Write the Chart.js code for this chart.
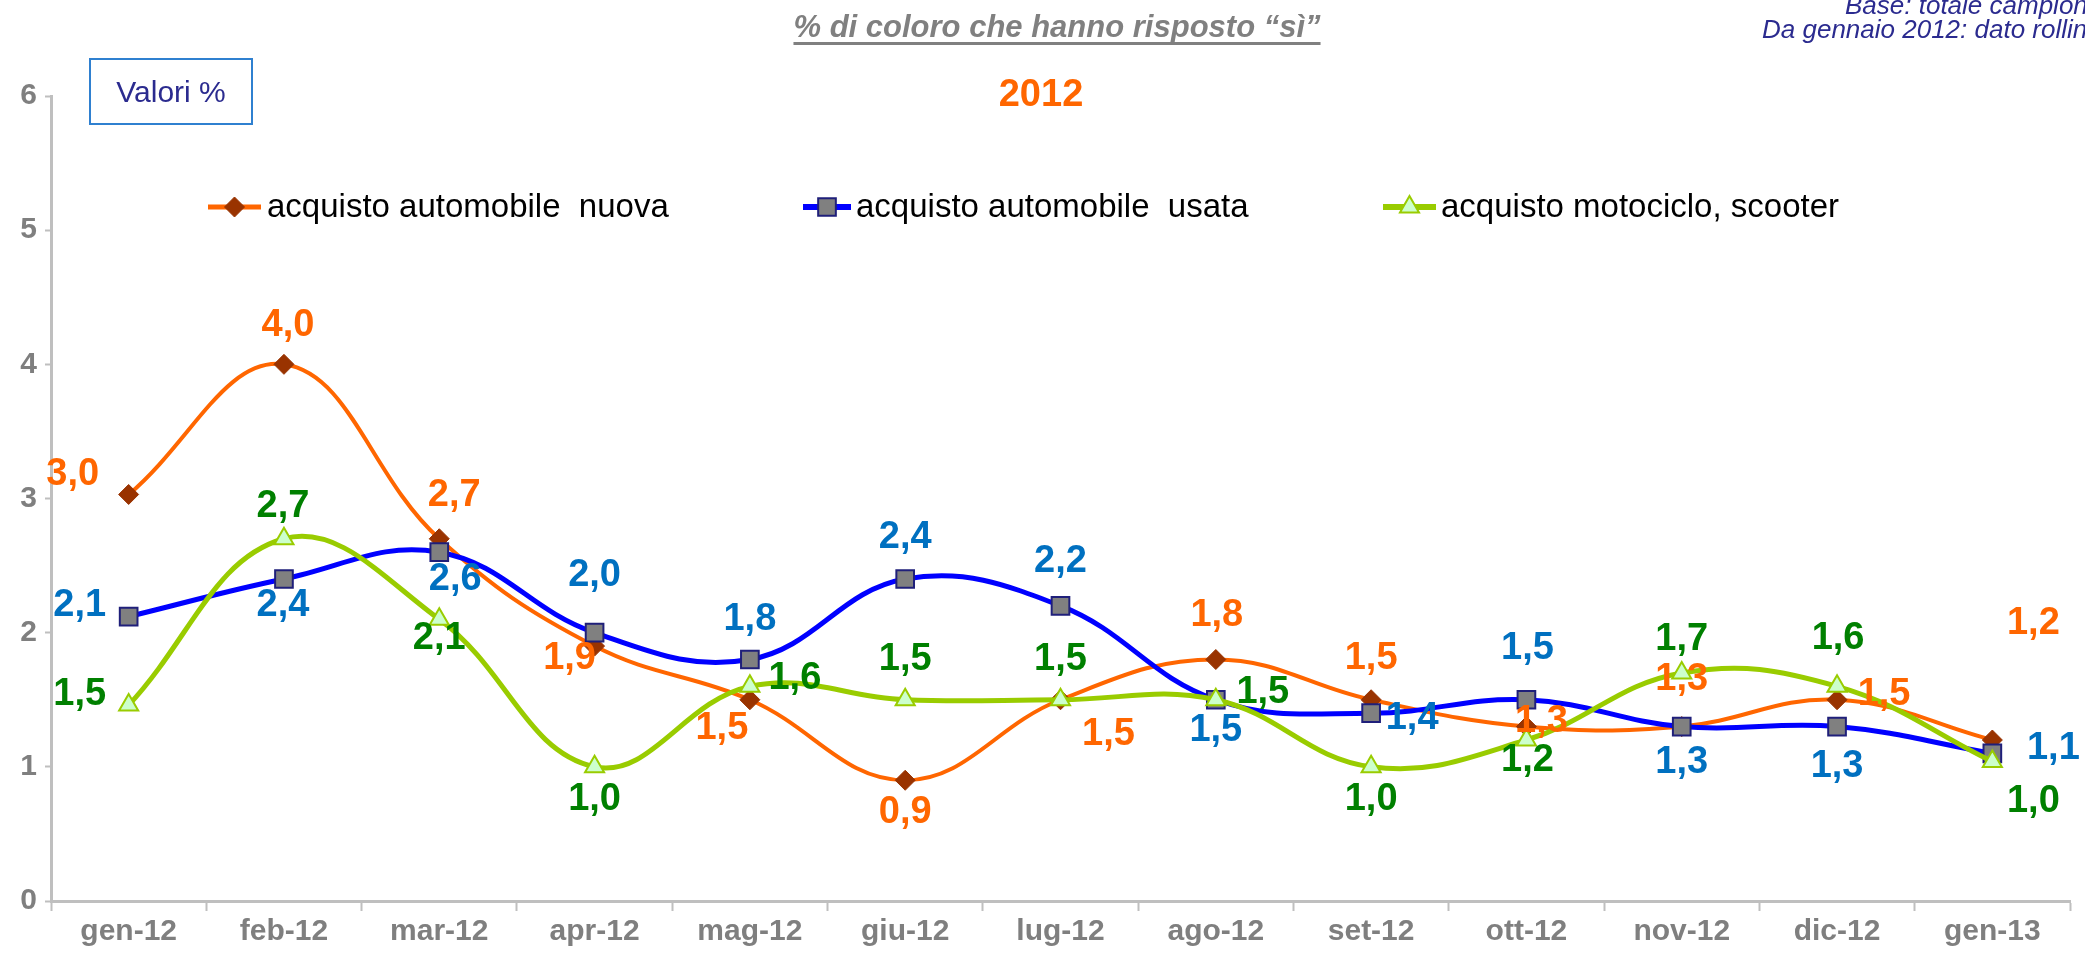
<!DOCTYPE html>
<html>
<head>
<meta charset="utf-8">
<script src="https://cdn.jsdelivr.net/npm/chart.js@4.4.1/dist/chart.umd.min.js"></script>
<style>
html, body { margin: 0; padding: 0; background: #fff; overflow: hidden; }
#wrap { position: relative; width: 2085px; height: 956px; overflow: hidden; font-family: "Liberation Sans", Arial, sans-serif; }
#wrap canvas { position: absolute; left: 0; top: 0; }
.t { position: absolute; white-space: nowrap; line-height: 1; }
</style>
</head>
<body>
<div id="wrap">
  <canvas id="chart" width="2085" height="956"></canvas>
  <div class="t" style="left:1057px;top:9px;transform:translateX(-50%);font:italic bold 31px 'Liberation Sans',Arial;color:#808080;text-decoration:underline;text-decoration-thickness:3px;text-underline-offset:5px;text-decoration-skip-ink:none;">% di coloro che hanno risposto “sì”</div>
  <div class="t" style="left:1845px;top:-10px;font:italic 26px 'Liberation Sans',Arial;color:#2B2B8F;">Base: totale campione</div>
  <div class="t" style="left:1762px;top:14px;font:italic 26px 'Liberation Sans',Arial;color:#2B2B8F;">Da gennaio 2012: dato rolling</div>
  <div class="t" style="left:89px;top:58px;width:160px;height:63px;border:2px solid #2F80D0;font:30px 'Liberation Sans',Arial;color:#2B2B8F;display:flex;align-items:center;justify-content:center;">Valori %</div>
  <div class="t" style="left:1041px;top:72px;transform:translateX(-50%);font:bold 38px 'Liberation Sans',Arial;color:#FF6600;">2012</div>
</div>
<script>
// mesi
var months = ["gen-12","feb-12","mar-12","apr-12","mag-12","giu-12","lug-12","ago-12","set-12","ott-12","nov-12","dic-12","gen-13"];

var autoNuova = [3.03, 4.0, 2.7, 1.9, 1.5, 0.9, 1.5, 1.8, 1.5, 1.3, 1.3, 1.5, 1.2];
var autoUsata = [2.12, 2.4, 2.6, 2.0, 1.8, 2.4, 2.2, 1.5, 1.4, 1.5, 1.3, 1.3, 1.1];
var moto      = [1.46, 2.7, 2.1, 1.0, 1.6, 1.5, 1.5, 1.5, 1.0, 1.2, 1.7, 1.6, 1.04];

var seriesNames = ["acquisto automobile  nuova", "acquisto automobile  usata", "acquisto motociclo, scooter"];

// spostamento delle etichette (px) rispetto al punto
var labelOffsets = [
    [[-56,-20],[4,-39],[15,-43],[-25,12],[-28,29],[0,32],[48,35],[1,-44],[0,-41],[15,-5],[0,-47],[47,-5],[41,-116]],
    [[-49,-11],[-1,27],[16,27],[0,-57],[0,-40],[0,-41],[0,-44],[0,31],[41,5],[1,-51],[0,36],[0,40],[61,-5]],
    [[-49,-11],[-1,-32],[0,19],[0,33],[45,-8],[0,-40],[0,-40],[47,-7],[0,33],[1,21],[0,-33],[1,-48],[41,40]]
];
var labelColors = ["#FF6600", "#0070C0", "#008000"];

// legenda: inizio linea, fine linea, inizio testo
var legendPos = [[208, 261, 267], [803, 851, 856], [1383, 1436, 1441]];
var legendY = 207;

var valueLabels = {
    id: 'valueLabels',
    afterDatasetsDraw: function (chart) {
        var ctx = chart.ctx;
        ctx.save();
        ctx.font = "bold 38px 'Liberation Sans', Arial";
        ctx.textAlign = "center";
        ctx.textBaseline = "middle";
        chart.data.datasets.forEach(function (ds, i) {
            var meta = chart.getDatasetMeta(i);
            ctx.fillStyle = labelColors[i];
            meta.data.forEach(function (pt, j) {
                var off = labelOffsets[i][j];
                var txt = ds.data[j].toFixed(1).replace(".", ",");
                ctx.fillText(txt, pt.x + off[0], pt.y + off[1]);
            });
        });
        ctx.restore();
    }
};

var legendDraw = {
    id: 'legendDraw',
    afterDraw: function (chart) {
        var ctx = chart.ctx;
        ctx.save();
        chart.data.datasets.forEach(function (ds, i) {
            var p = legendPos[i];
            ctx.strokeStyle = ds.borderColor;
            ctx.lineWidth = ds.borderWidth + 1;
            ctx.beginPath();
            ctx.moveTo(p[0], legendY);
            ctx.lineTo(p[1], legendY);
            ctx.stroke();
            ctx.fillStyle = ds.pointBackgroundColor;
            ctx.strokeStyle = ds.pointBorderColor;
            ctx.lineWidth = ds.pointBorderWidth;
            Chart.helpers.drawPoint(ctx, {
                pointStyle: ds.pointStyle,
                radius: ds.pointRadius,
                borderWidth: ds.pointBorderWidth,
                rotation: 0
            }, (p[0] + p[1]) / 2, legendY);
            ctx.fillStyle = "#000";
            ctx.font = "33px 'Liberation Sans', Arial";
            ctx.textAlign = "left";
            ctx.textBaseline = "middle";
            ctx.fillText(seriesNames[i], p[2], legendY + 1);
        });
        ctx.restore();
    }
};

Chart.defaults.font.family = "'Liberation Sans', Arial, sans-serif";

var ctx = document.getElementById("chart").getContext("2d");
var chart = new Chart(ctx, {
    type: 'line',
    data: {
        labels: months,
        datasets: [
            {
                label: seriesNames[0],
                data: autoNuova,
                borderColor: "#FF6600",
                borderWidth: 4,
                pointStyle: 'rectRot',
                pointRadius: 10,
                pointBackgroundColor: "#993300",
                pointBorderColor: "#993300",
                pointBorderWidth: 1,
                tension: 0.4,
                order: 3
            },
            {
                label: seriesNames[1],
                data: autoUsata,
                borderColor: "#0000FF",
                borderWidth: 5,
                pointStyle: 'rect',
                pointRadius: 12.5,
                pointBackgroundColor: "#808080",
                pointBorderColor: "#1F1F7A",
                pointBorderWidth: 2,
                tension: 0.4,
                order: 2
            },
            {
                label: seriesNames[2],
                data: moto,
                borderColor: "#99CC00",
                borderWidth: 5,
                pointStyle: 'triangle',
                pointRadius: 11,
                pointBackgroundColor: "#CCFFCC",
                pointBorderColor: "#99CC00",
                pointBorderWidth: 2,
                tension: 0.4,
                order: 1
            }
        ]
    },
    options: {
        responsive: false,
        animation: false,
        layout: { padding: { top: 96, right: 15, left: 0, bottom: 0 } },
        plugins: {
            legend: { display: false },
            title: { display: false },
            tooltip: { enabled: false }
        },
        scales: {
            x: {
                offset: true,
                grid: { offset: true, drawOnChartArea: false, drawTicks: true, tickLength: 10, tickColor: "#BFBFBF", tickWidth: 2 },
                border: { color: "#BFBFBF", width: 3 },
                ticks: { color: "#7F7F7F", font: { size: 30, weight: 'bold' }, padding: 3, maxRotation: 0, autoSkip: false },
                afterFit: function (s) { s.height = 55; }
            },
            y: {
                min: 0,
                max: 6,
                ticks: { stepSize: 1, color: "#7F7F7F", font: { size: 30, weight: 'bold' }, padding: 8 },
                grid: { drawOnChartArea: false, drawTicks: true, tickLength: 6, tickColor: "#BFBFBF", tickWidth: 2 },
                border: { color: "#BFBFBF", width: 3 },
                afterFit: function (s) { s.width = 51; }
            }
        }
    },
    plugins: [valueLabels, legendDraw]
});
</script>
</body>
</html>
